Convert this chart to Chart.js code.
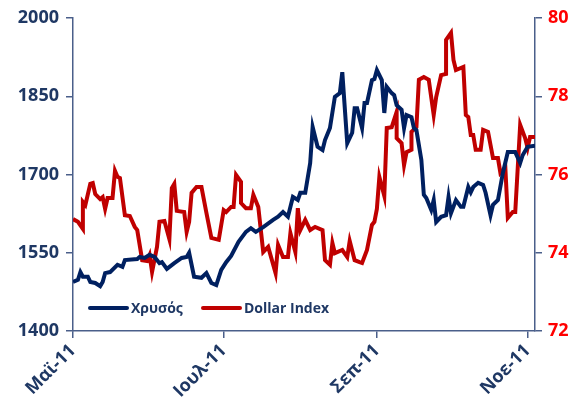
<!DOCTYPE html>
<html>
<head>
<meta charset="utf-8">
<script src="https://cdn.jsdelivr.net/npm/chart.js@4/dist/chart.umd.min.js"></script>
<style>
  html, body { margin: 0; padding: 0; background: #fff; }
  #wrap { width: 582px; height: 416px; }
</style>
</head>
<body>
<div id="wrap"><canvas id="chart" width="582" height="416"></canvas></div>
<script>
// days counted from 1 May 2011
const goldDays = [0, 2, 3, 4, 6, 7, 9, 11, 12, 13, 15, 18, 20, 21, 26, 27, 29, 31, 33, 35, 36, 38, 41, 44, 46, 47, 49, 52, 54, 56, 58, 60, 62, 64, 67, 70, 72, 74, 77, 81, 83, 85, 87, 89, 91, 92, 94, 96, 97, 99, 101, 102, 104, 106, 108, 109, 111, 113, 114, 115, 117, 118, 119, 121, 122, 123, 125, 126, 127, 129, 130, 131, 133, 134, 135, 137, 138, 139, 141, 142, 143, 145, 146, 147, 149, 151, 152, 153, 155, 157, 158, 160, 161, 162, 164, 166, 167, 169, 170, 172, 174, 176, 179, 181, 182, 184, 187];
const gold = [1494, 1498, 1513, 1504, 1504, 1494, 1492, 1486, 1494, 1511, 1513, 1527, 1523, 1536, 1538, 1542, 1540, 1546, 1542, 1530, 1532, 1519, 1530, 1540, 1542, 1550, 1504, 1502, 1511, 1492, 1488, 1517, 1532, 1544, 1571, 1590, 1597, 1590, 1599, 1613, 1619, 1628, 1619, 1657, 1651, 1665, 1665, 1722, 1791, 1753, 1747, 1766, 1789, 1849, 1856, 1896, 1760, 1780, 1827, 1827, 1789, 1837, 1837, 1881, 1883, 1900, 1881, 1818, 1868, 1856, 1852, 1833, 1824, 1789, 1814, 1810, 1789, 1785, 1728, 1661, 1655, 1632, 1651, 1609, 1619, 1622, 1657, 1626, 1651, 1638, 1638, 1676, 1666, 1676, 1684, 1680, 1665, 1622, 1642, 1651, 1703, 1743, 1743, 1722, 1737, 1753, 1755];

const dollarDays = [0, 2, 4, 4, 5, 7, 8, 9, 11, 12, 13, 14, 16, 17, 18, 19, 21, 23, 25, 26, 28, 30, 31, 32, 34, 35, 37, 39, 40, 41, 42, 45, 46, 47, 48, 50, 52, 54, 56, 59, 61, 62, 64, 65, 66, 68, 68, 70, 72, 73, 75, 77, 79, 82, 83, 85, 87, 88, 90, 91, 92, 94, 96, 98, 101, 102, 104, 105, 106, 109, 111, 112, 114, 116, 117, 119, 121, 122, 123, 124, 126, 127, 129, 131, 131, 133, 134, 135, 137, 137, 139, 140, 142, 144, 146, 147, 149, 151, 151, 153, 154, 155, 158, 159, 160, 161, 162, 163, 165, 166, 168, 170, 172, 173, 175, 176, 178, 179, 181, 183, 184, 185, 187];
const dollar = [74.86, 74.79, 74.61, 75.30, 75.22, 75.76, 75.78, 75.50, 75.37, 75.42, 75.12, 75.40, 75.40, 76.09, 75.94, 75.91, 74.96, 74.94, 74.66, 74.58, 73.81, 73.79, 73.94, 73.51, 74.15, 74.79, 74.81, 74.35, 75.65, 75.76, 75.07, 75.04, 74.53, 74.79, 75.53, 75.68, 75.68, 75.02, 74.38, 74.33, 75.09, 75.04, 75.17, 75.17, 75.99, 75.81, 75.27, 75.14, 75.14, 75.48, 75.17, 74.02, 74.15, 73.48, 74.20, 73.89, 73.89, 74.50, 74.02, 75.14, 74.58, 74.84, 74.58, 74.66, 74.58, 73.81, 73.69, 74.25, 73.99, 74.07, 73.89, 74.30, 73.81, 73.76, 73.74, 74.07, 74.71, 74.79, 75.12, 75.94, 75.45, 77.19, 77.21, 77.60, 76.93, 76.80, 76.24, 76.57, 76.63, 77.09, 77.21, 78.42, 78.49, 78.42, 77.52, 77.98, 78.54, 78.57, 79.44, 79.62, 78.93, 78.67, 78.75, 77.52, 77.47, 77.01, 77.01, 76.63, 76.63, 77.14, 77.09, 76.42, 76.42, 76.04, 76.17, 74.89, 75.04, 75.04, 77.27, 76.93, 76.68, 76.96, 76.96];

const monthDays = [0, 61, 123, 184];
const monthLabels = ['Μαϊ-11', 'Ιουλ-11', 'Σεπ-11', 'Νοε-11'];
const goldTicks = [1400, 1550, 1700, 1850, 2000];
const dollarTicks = [72, 74, 76, 78, 80];

const seriesNames = ['Χρυσός', 'Dollar Index'];

const navy = '#002060';
const red = '#C00000';
const axisColor = '#4A5F8A';
const labelNavy = '#1F3864';
const fontFamily = '"Open Sans", "Liberation Sans", sans-serif';

Chart.defaults.font.family = fontFamily;

const toPoints = (xs, ys) => xs.map((d, i) => ({ x: d, y: ys[i] }));

// legend drawn inside the plot, lower left
const innerLegend = {
    id: 'innerLegend',
    afterDraw(chart) {
        const ctx = chart.ctx;
        const items = [
            { x: 90, x2: 127, tx: 131, color: navy, text: seriesNames[0] },
            { x: 203, x2: 240, tx: 244, color: red, text: seriesNames[1] }
        ];
        const y = 308;
        ctx.save();
        ctx.font = '700 14px ' + fontFamily;
        ctx.textBaseline = 'middle';
        items.forEach(it => {
            ctx.strokeStyle = it.color;
            ctx.lineWidth = 4;
            ctx.lineCap = 'round';
            ctx.beginPath();
            ctx.moveTo(it.x, y);
            ctx.lineTo(it.x2, y);
            ctx.stroke();
            ctx.fillStyle = labelNavy;
            ctx.fillText(it.text, it.tx, y + 1);
        });
        ctx.restore();
    }
};

new Chart(document.getElementById('chart'), {
    type: 'line',
    data: {
        datasets: [{
            label: seriesNames[0],
            data: toPoints(goldDays, gold),
            borderColor: navy,
            borderWidth: 4,
            pointRadius: 0,
            yAxisID: 'y',
        }, {
            label: seriesNames[1],
            data: toPoints(dollarDays, dollar),
            borderColor: red,
            borderWidth: 4,
            pointRadius: 0,
            yAxisID: 'y2',
        }]
    },
    options: {
        responsive: false,
        animation: false,
        layout: { padding: { top: 18, left: 0, right: 0, bottom: 0 } },
        plugins: {
            legend: { display: false },
            tooltip: { enabled: false },
        },
        scales: {
            x: {
                type: 'linear',
                min: 0,
                max: 187,
                afterBuildTicks: axis => { axis.ticks = monthDays.map(v => ({ value: v })); },
                afterFit: axis => { axis.height = 85; },
                ticks: {
                    autoSkip: false,
                    minRotation: 45,
                    maxRotation: 45,
                    padding: 2,
                    color: labelNavy,
                    font: { size: 18, weight: 700 },
                    callback: v => monthLabels[monthDays.indexOf(v)],
                },
                grid: { drawOnChartArea: false, tickLength: 7, color: axisColor, lineWidth: 1.5 },
                border: { color: axisColor, width: 1.5 },
            },
            y: {
                position: 'left',
                min: 1400,
                max: 2000,
                afterBuildTicks: axis => { axis.ticks = goldTicks.map(v => ({ value: v })); },
                afterFit: axis => { axis.width = 73; },
                ticks: { color: labelNavy, padding: 7, font: { size: 18, weight: 700 }, callback: v => String(v) },
                grid: { drawOnChartArea: false, tickLength: 7, color: axisColor, lineWidth: 1.5 },
                border: { color: axisColor, width: 1.5 },
            },
            y2: {
                position: 'right',
                min: 72,
                max: 80,
                afterBuildTicks: axis => { axis.ticks = dollarTicks.map(v => ({ value: v })); },
                afterFit: axis => { axis.width = 47; },
                ticks: { color: '#FF0000', padding: 6, font: { size: 18, weight: 700 }, callback: v => String(v) },
                grid: { drawOnChartArea: false, tickLength: 7, color: axisColor, lineWidth: 1.5 },
                border: { color: axisColor, width: 1.5 },
            }
        }
    },
    plugins: [innerLegend]
});
</script>
</body>
</html>
